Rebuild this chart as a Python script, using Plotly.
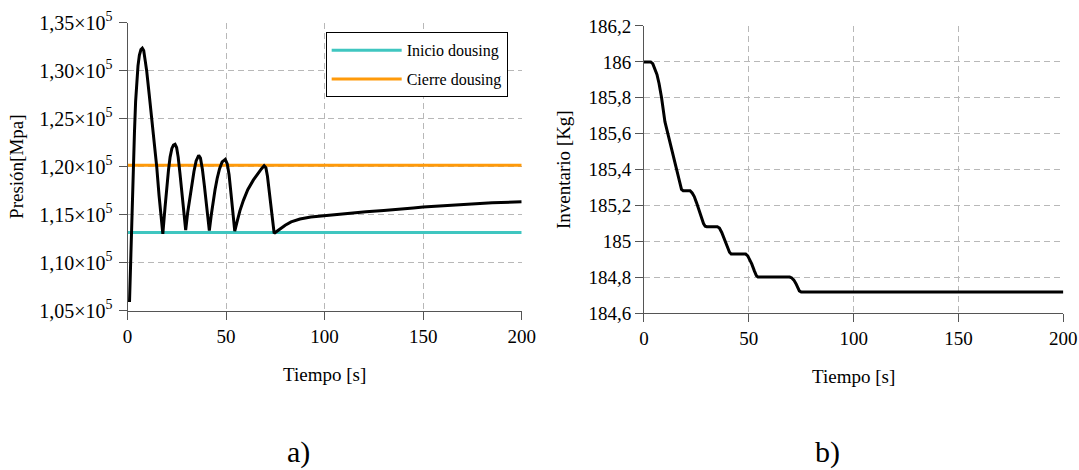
import plotly.graph_objects as go

# ---------------- data ----------------
# a) Pressure vs time
t_pres = [1, 1.4, 1.8, 2.4, 3, 3.5, 4.1, 4.7, 5.3, 6, 6.8, 7.5, 8.2, 9, 9.7, 11, 12.3, 13.5, 14.8, 16, 17, 17.9,
          19, 19.9, 20.8, 21.6, 22.5, 23.3, 24.1, 24.9, 25.7, 26.6, 27.6, 28.6, 29.5,
          30.5, 31.5, 32.6, 33.7, 34.8, 36.1, 37, 38, 39, 40, 40.8, 41.5,
          42.5, 43.5, 44.4, 45.5, 46.7, 48, 49.6, 50.6, 51.5, 52.5, 53.5, 54.4,
          55.5, 57, 58.8, 61, 63.8, 66, 68, 69.3, 70.2, 71, 72, 73, 73.8, 74.4,
          76, 78, 80, 83, 87.5, 93, 100, 110, 121, 130, 138, 145, 150, 160, 172, 185, 200]
p_pres = [105900, 109000, 113000, 117000, 120000, 123500, 126800, 129000, 130500, 131600, 132200, 132350, 132100, 131000,
          130000, 127500, 125000, 122500, 120000, 117000, 114800, 113000,
          115700, 117900, 119700, 121000, 121900, 122250, 122330, 122000, 121000, 119300, 117200, 115000, 113400,
          115200, 116700, 118000, 119500, 120600, 121190, 120900, 119700, 118000, 116300, 114500, 113350,
          115000, 116500, 117600, 118800, 119800, 120500, 120770, 120300, 119200, 117200, 115000, 113300,
          114200, 115400, 116500, 117600, 118600, 119300, 119800, 120100, 119900, 119000, 117200, 115200, 113700, 113050,
          113300, 113650, 113900, 114250, 114550, 114750, 114900, 115100, 115300, 115450, 115550, 115700, 115800,
          115950, 116100, 116250, 116350]

t_ref = [0, 200]
inicio_dousing = [113150, 113150]
cierre_dousing = [120150, 120150]

# b) Inventory vs time
t_inv = [0, 3.2, 4.2, 5.2, 6.2, 7.2, 8.4, 10, 12.4, 15.3, 17, 17.9, 18.7, 22, 23, 24, 25.1, 26.3, 27.5, 28.4, 29.2,
         30, 35, 36, 37.1, 38.6, 40, 40.8, 41.6, 48.5, 49.5, 50.5, 51.4, 52.7, 53.6, 54.4, 69.5, 70.5, 71.5, 72.5,
         73.3, 74.1, 75, 200]
m_inv = [186.0, 186.0, 185.99, 185.965, 185.93, 185.88, 185.80, 185.667, 185.547, 185.416, 185.33, 185.29, 185.283,
         185.283, 185.27, 185.25, 185.215, 185.17, 185.13, 185.10, 185.085, 185.082, 185.082, 185.075, 185.05,
         185.008, 184.965, 184.94, 184.93, 184.93, 184.92, 184.90, 184.875, 184.835, 184.81, 184.802, 184.802,
         184.797, 184.785, 184.765, 184.74, 184.725, 184.719, 184.719]

x_ticks = [0, 50, 100, 150, 200]
y1_ticks = [105000, 110000, 115000, 120000, 125000, 130000, 135000]
y1_labels = ["1,05×10<sup>5</sup>", "1,10×10<sup>5</sup>", "1,15×10<sup>5</sup>", "1,20×10<sup>5</sup>",
             "1,25×10<sup>5</sup>", "1,30×10<sup>5</sup>", "1,35×10<sup>5</sup>"]
y2_ticks = [184.6, 184.8, 185.0, 185.2, 185.4, 185.6, 185.8, 186.0, 186.2]
y2_labels = ["184,6", "184,8", "185", "185,2", "185,4", "185,6", "185,8", "186", "186,2"]

# ---------------- figure ----------------
FONT = "Liberation Serif"
fig = go.Figure()

fig.add_trace(go.Scatter(x=t_ref, y=inicio_dousing, mode="lines", name="Inicio dousing",
                         line=dict(color="#3fc6c0", width=3), legendgroup="a", xaxis="x", yaxis="y"))
fig.add_trace(go.Scatter(x=t_ref, y=cierre_dousing, mode="lines", name="Cierre dousing",
                         line=dict(color="#ff9a0a", width=3), legendgroup="b", xaxis="x", yaxis="y"))
fig.add_trace(go.Scatter(x=t_pres, y=p_pres, mode="lines", showlegend=False,
                         line=dict(color="black", width=3), xaxis="x", yaxis="y"))
fig.add_trace(go.Scatter(x=t_inv, y=m_inv, mode="lines", showlegend=False,
                         line=dict(color="black", width=3), xaxis="x2", yaxis="y2"))

axis_common = dict(showgrid=True, gridcolor="#b8b8b8", gridwidth=1, griddash="6px,4px",
                   showline=True, linecolor="#555555", linewidth=1, ticks="outside", ticklen=8,
                   tickcolor="#555555", tickwidth=1, zeroline=False, automargin=False)
tf19 = dict(family=FONT, size=19, color="black")
tf20 = dict(family=FONT, size=20, color="black")

fig.update_layout(
    template="none",
    width=1079, height=470,
    margin=dict(l=0, r=0, t=0, b=0, pad=0),
    paper_bgcolor="white", plot_bgcolor="white",
    font=dict(family=FONT, size=19, color="black"),
    showlegend=True,
    legend=dict(x=0.4705, y=0.9313, xanchor="right", yanchor="top",
                bordercolor="black", borderwidth=1, bgcolor="white",
                font=dict(family=FONT, size=16, color="black"),
                itemwidth=70, tracegroupgap=5),
    xaxis=dict(domain=[0.1182, 0.4835], range=[0, 200], tickvals=x_ticks, anchor="y", tickfont=tf19,
               title=dict(text="Tiempo [s]", font=dict(family=FONT, size=19), standoff=22), **axis_common),
    yaxis=dict(domain=[0.3389, 0.9517], range=[105000, 135000], tickvals=y1_ticks, ticktext=y1_labels, anchor="x",
               tickfont=tf20, ticklabelstandoff=2,
               title=dict(text="Presión[Mpa]", font=dict(family=FONT, size=19), standoff=10), **axis_common),
    xaxis2=dict(domain=[0.5968, 0.9855], range=[0, 200], tickvals=x_ticks, anchor="y2", tickfont=tf19,
                title=dict(text="Tiempo [s]", font=dict(family=FONT, size=19), standoff=21), **axis_common),
    yaxis2=dict(domain=[0.3334, 0.9447], range=[184.6, 186.2], tickvals=y2_ticks, ticktext=y2_labels, anchor="x2",
                tickfont=tf19,
                title=dict(text="Inventario [Kg]", font=dict(family=FONT, size=19), standoff=12), **axis_common),
    annotations=[
        dict(text="a)", x=298 / 1079, y=1 - 452 / 470, xref="paper", yref="paper", showarrow=False,
             font=dict(family=FONT, size=30, color="black"), xanchor="center", yanchor="middle"),
        dict(text="b)", x=827 / 1079, y=1 - 452 / 470, xref="paper", yref="paper", showarrow=False,
             font=dict(family=FONT, size=30, color="black"), xanchor="center", yanchor="middle"),
    ],
)

fig.write_html("out.html")
